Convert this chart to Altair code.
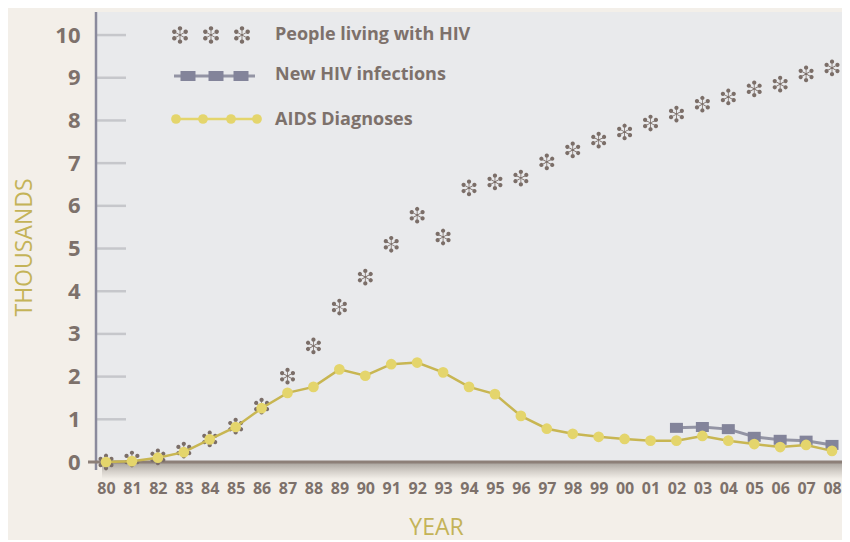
import math
import altair as alt
import pandas as pd

# ---------------- data ----------------
years = [1980, 1981, 1982, 1983, 1984, 1985, 1986, 1987, 1988, 1989,
         1990, 1991, 1992, 1993, 1994, 1995, 1996, 1997, 1998, 1999,
         2000, 2001, 2002, 2003, 2004, 2005, 2006, 2007, 2008]
people_living = [0.0, 0.07, 0.12, 0.28, 0.54, 0.84, 1.31, 2.01, 2.72, 3.63,
                 4.33, 5.1, 5.78, 5.27, 6.42, 6.56, 6.65, 7.03, 7.31, 7.54,
                 7.73, 7.94, 8.15, 8.38, 8.55, 8.74, 8.85, 9.09, 9.23]
aids_diagnoses = [0.0, 0.02, 0.1, 0.23, 0.53, 0.82, 1.26, 1.62, 1.76, 2.17,
                  2.02, 2.29, 2.33, 2.1, 1.76, 1.59, 1.08, 0.78, 0.66, 0.59,
                  0.54, 0.5, 0.5, 0.61, 0.5, 0.42, 0.35, 0.4, 0.26]
new_years = [2002, 2003, 2004, 2005, 2006, 2007, 2008]
new_infections = [0.8, 0.82, 0.77, 0.59, 0.52, 0.5, 0.4]
y_ticks = [0, 1, 2, 3, 4, 5, 6, 7, 8, 9, 10]
legend_labels = ["People living with HIV", "New HIV infections", "AIDS Diagnoses"]

# ---------------- styles ----------------
FONT = "Open Sans"
TXT = "#7d716b"
OLIVE = "#c4b358"
YEL_FILL = "#e4d56c"
YEL_LINE = "#c8b652"
GRAY_SQ = "#83849a"
GRAY_LINE = "#9394a4"
AST = "#7b6e68"


def asterisk_path():
    parts = []
    hw, L, R, r, n = 0.05, 0.6, 0.76, 0.26, 12
    for k in range(6):
        a = math.radians(90 + 60 * k)
        dx, dy = math.cos(a), -math.sin(a)
        px, py = -dy, dx
        pts = [(px * hw, py * hw), (dx * L + px * hw, dy * L + py * hw),
               (dx * L - px * hw, dy * L - py * hw), (-px * hw, -py * hw)]
        parts.append("M" + "L".join(f"{x:.3f},{y:.3f}" for x, y in pts) + "Z")
        cx, cy = dx * R, dy * R
        circ = [(cx + r * math.cos(-2 * math.pi * j / n), cy + r * math.sin(-2 * math.pi * j / n))
                for j in range(n)]
        parts.append("M" + "L".join(f"{x:.3f},{y:.3f}" for x, y in circ) + "Z")
    return "".join(parts)


AST_PATH = asterisk_path()
RECT_PATH = "M-1.3,-1L1.3,-1L1.3,1L-1.3,1Z"

people_df = pd.DataFrame({"year": years, "value": people_living})
aids_df = pd.DataFrame({"year": years, "value": aids_diagnoses})
new_df = pd.DataFrame({"year": new_years, "value": new_infections})
ticks_df = pd.DataFrame({"value": y_ticks})

PLOT_W, PLOT_H = 746, 450

x_enc = alt.X(
    "year:Q",
    scale=alt.Scale(domain=[1979.614, 2008.385], nice=False, zero=False),
    axis=alt.Axis(
        values=years,
        labelExpr="(datum.value % 100 < 10 ? '0' : '') + (datum.value % 100)",
        ticks=False, domain=False, grid=False, zindex=1,
        labelPadding=18, labelFontSize=16, labelFontWeight="bold",
        labelColor=TXT, labelFont=FONT, labelFlush=False, labelOverlap=False,
        title="YEAR", titleX=340, titleY=72, titleAlign="center",
        titleBaseline="alphabetic", titleFontSize=23, titleFontWeight="normal",
        titleColor=OLIVE, titleFont=FONT,
    ),
)
y_enc = alt.Y(
    "value:Q",
    scale=alt.Scale(domain=[0, 10.54], nice=False, zero=False),
    axis=alt.Axis(
        values=y_ticks, ticks=False, domain=False, grid=False, zindex=1,
        labelPadding=16, labelFontSize=22, labelFontWeight="bold",
        labelColor=TXT, labelFont=FONT,
        title="THOUSANDS", titleX=-72, titleY=235, titleAngle=270,
        titleAlign="center", titleBaseline="middle", titleFontSize=23,
        titleFontWeight="normal", titleColor=OLIVE, titleFont=FONT,
    ),
)

one = pd.DataFrame({"a": [0]})

# shadow under the x axis
shadow = alt.Chart(one).mark_rect(
    color=alt.Gradient(
        gradient="linear",
        stops=[alt.GradientStop(color="#aaa59f", offset=0),
               alt.GradientStop(color="#d3cec8", offset=0.5),
               alt.GradientStop(color="#f3efe9", offset=1)],
        x1=0, x2=0, y1=0, y2=1,
    )
).encode(x=alt.value(6), x2=alt.value(PLOT_W), y=alt.value(451), y2=alt.value(467))

tick_rules = alt.Chart(ticks_df).mark_rule(color="#c6c7cb", strokeWidth=2.5).encode(
    x=alt.value(1), x2=alt.value(30), y=y_enc
)

y_line = alt.Chart(one).mark_rule(color="#8a8a9c", strokeWidth=2.5).encode(
    x=alt.value(0), y=alt.value(0), y2=alt.value(458)
)
x_line = alt.Chart(one).mark_rule(color="#8c7f78", strokeWidth=3).encode(
    x=alt.value(-8), x2=alt.value(PLOT_W), y=alt.value(PLOT_H)
)

people_pts = alt.Chart(people_df).mark_point(
    shape=AST_PATH, filled=True, size=270, color=AST, opacity=1, strokeWidth=0
).encode(x=x_enc, y=y_enc)

new_line = alt.Chart(new_df).mark_line(color=GRAY_LINE, strokeWidth=3).encode(x=x_enc, y=y_enc)
new_pts = alt.Chart(new_df).mark_point(
    shape=RECT_PATH, filled=True, size=100, color=GRAY_SQ, opacity=1, strokeWidth=0
).encode(x=x_enc, y=y_enc)

aids_line = alt.Chart(aids_df).mark_line(color=YEL_LINE, strokeWidth=2.5).encode(x=x_enc, y=y_enc)
aids_pts = alt.Chart(aids_df).mark_circle(size=115, color=YEL_FILL, opacity=1).encode(x=x_enc, y=y_enc)

# ---------------- legend (pixel positions) ----------------
leg_ast = pd.DataFrame({"px": [84, 115, 146], "py": [23, 23, 23]})
leg_sq_line = pd.DataFrame({"px": [78, 159], "py": [64, 64]})
leg_sq = pd.DataFrame({"px": [92, 120, 145], "py": [64, 64, 64]})
leg_dot = pd.DataFrame({"px": [80, 107, 135, 161], "py": [107, 107, 107, 107]})
leg_txt = pd.DataFrame({"px": [179, 179, 179], "py": [23, 63, 108], "label": legend_labels})

px = alt.X("px:Q", scale=None)
py = alt.Y("py:Q", scale=None)

l1 = alt.Chart(leg_ast).mark_point(
    shape=AST_PATH, filled=True, size=300, color=AST, opacity=1, strokeWidth=0
).encode(x=px, y=py)
l2a = alt.Chart(leg_sq_line).mark_line(color=GRAY_LINE, strokeWidth=3).encode(x=px, y=py)
l2b = alt.Chart(leg_sq).mark_point(
    shape="M-1.5,-1L1.5,-1L1.5,1L-1.5,1Z", filled=True, size=100, color=GRAY_SQ,
    opacity=1, strokeWidth=0
).encode(x=px, y=py)
l3a = alt.Chart(leg_dot).mark_line(color=YEL_FILL, strokeWidth=2.5).encode(x=px, y=py)
l3b = alt.Chart(leg_dot).mark_circle(size=95, color=YEL_FILL, opacity=1).encode(x=px, y=py)
lt = alt.Chart(leg_txt).mark_text(
    align="left", baseline="middle", font=FONT, fontSize=18, fontWeight="bold", color=TXT
).encode(x=px, y=py, text="label:N")

chart = alt.layer(
    shadow, tick_rules, y_line, x_line,
    people_pts, new_line, new_pts, aids_line, aids_pts,
    l1, l2a, l2b, l3a, l3b, lt,
).properties(
    width=PLOT_W, height=PLOT_H,
    autosize=alt.AutoSizeParams(type="none"),
    padding={"left": 88, "top": 4, "right": 0, "bottom": 78},
    background="#f3efe9",
).configure_view(fill="#e9eaec", strokeWidth=0)

chart.save("out.html", embed_options={"renderer": "svg", "actions": False})
